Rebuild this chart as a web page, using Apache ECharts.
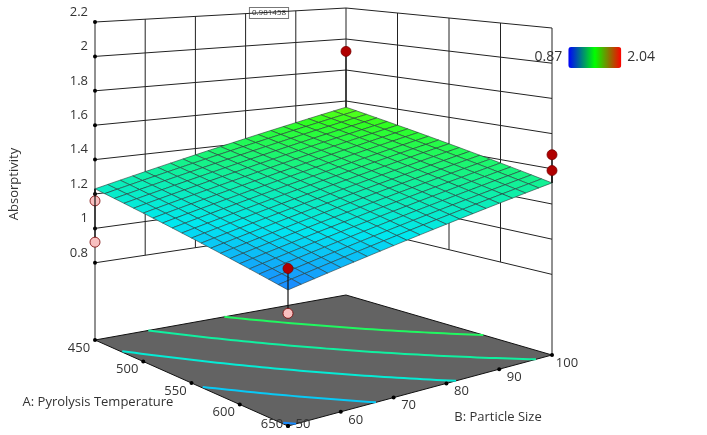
<!DOCTYPE html>
<html>
<head>
<meta charset="utf-8">
<script src="https://cdn.jsdelivr.net/npm/echarts@6/dist/echarts.min.js"></script>
<style>html,body{margin:0;padding:0;background:#fff}#main{width:707px;height:435px}</style>
</head>
<body>
<div id="main"></div>
<script>
// axis ticks
const aTicks = [450, 500, 550, 600, 650];
const bTicks = [50, 60, 70, 80, 90, 100];
const zTicks = [0.8, 1, 1.2, 1.4, 1.6, 1.8, 2, 2.2];
// fitted surface at the four corners: [A450/B50, A650/B50, A450/B100, A650/B100]
const surfCorners = [1.23, 0.99, 1.56, 1.32];
const contourLevels = [1.0, 1.1, 1.2, 1.3, 1.4];
// design points
const ptA = [450, 450, 650, 650, 650, 450, 650];
const ptB = [100, 50, 50, 50, 100, 50, 100];
const ptZ = [1.92, 1.16, 1.10, 0.87, 1.48, 0.92, 1.39];
const colorMin = 0.87, colorMax = 2.04;

// view: per-corner screen params (L=A450/B50, F=A650/B50, K=A450/B100, R=A650/B100)
const cx = [95, 288, 346, 552];
const cFloor = [340, 426, 295, 355];
const cTop = [22, 54, 8, 28];
const cK = [172, 195, 155, 176];

function bil(c, u, v) {
  return c[0] * (1 - u) * (1 - v) + c[1] * u * (1 - v) + c[2] * (1 - u) * v + c[3] * u * v;
}
function uv(a, b) { return [(a - 450) / 200, (b - 50) / 50]; }
function proj(a, b, z) {
  const [u, v] = uv(a, b);
  return [bil(cx, u, v), bil(cTop, u, v) + (2.2 - z) * bil(cK, u, v)];
}
function floorPt(a, b) {
  const [u, v] = uv(a, b);
  return [bil(cx, u, v), bil(cFloor, u, v)];
}
function surfZ(a, b) { const [u, v] = uv(a, b); return bil(surfCorners, u, v); }

const surfStops = [0.87, 1.0, 1.15, 1.3, 1.5, 1.75, 2.04];
const surfPalette = ['#0040ff', '#1a8cff', '#00e8f0', '#10f0a0', '#30ff20', '#ffff00', '#ff0000'];
function surfColor(z) {
  for (let i = 1; i < surfStops.length; i++) {
    if (z <= surfStops[i]) {
      const t = (z - surfStops[i - 1]) / (surfStops[i] - surfStops[i - 1]);
      return echarts.color.lerp(Math.max(0, t), [surfPalette[i - 1], surfPalette[i]]);
    }
  }
  return surfPalette[surfPalette.length - 1];
}

const chart = echarts.init(document.getElementById('main'));
const font = '"Open Sans", "Noto Sans", sans-serif';

function renderAll(params, api) {
  const c = p => api.coord(p);
  const line = (p1, p2, stroke, w) => ({ type: 'line', shape: { x1: c(p1)[0], y1: c(p1)[1], x2: c(p2)[0], y2: c(p2)[1] }, style: { stroke: stroke || '#222', lineWidth: w || 1 } });
  const kids = [];
  // floor
  const fc = [floorPt(450, 50), floorPt(650, 50), floorPt(650, 100), floorPt(450, 100)];
  kids.push({ type: 'polygon', shape: { points: fc.map(c) }, style: { fill: '#636363', stroke: '#111', lineWidth: 1 } });
  // contours on floor
  contourLevels.forEach(lv => {
    const pts = [];
    for (let i = 0; i <= 60; i++) {
      const u = i / 60;
      const z0 = surfCorners[0] + (surfCorners[1] - surfCorners[0]) * u;
      const z1 = surfCorners[2] + (surfCorners[3] - surfCorners[2]) * u;
      const v = (lv - z0) / (z1 - z0);
      if (v >= 0 && v <= 1) pts.push(c(floorPt(450 + u * 200, 50 + v * 50)));
    }
    if (pts.length > 1) kids.push({ type: 'polyline', shape: { points: pts }, style: { stroke: surfColor(lv), lineWidth: 2, fill: null } });
  });
  // walls
  zTicks.forEach(z => {
    kids.push(line(proj(450, 50, z), proj(450, 100, z)));
    kids.push(line(proj(450, 100, z), proj(650, 100, z)));
  });
  bTicks.slice(1, -1).forEach(b => kids.push(line(proj(450, b, 0.8), proj(450, b, 2.2))));
  aTicks.slice(1, -1).forEach(a => kids.push(line(proj(a, 100, 0.8), proj(a, 100, 2.2))));
  kids.push(line(proj(450, 100, 0.8), proj(450, 100, 2.2)));
  kids.push(line(floorPt(450, 50), proj(450, 50, 2.2)));
  kids.push(line(floorPt(650, 100), proj(650, 100, 2.2)));
  // z ticks + labels
  zTicks.forEach(z => {
    const p = c(proj(450, 50, z));
    kids.push({ type: 'circle', shape: { cx: p[0], cy: p[1], r: 2 }, style: { fill: '#000' } });
    kids.push({ type: 'text', x: p[0] - 7, y: p[1] - 10, style: { text: String(z), align: 'right', verticalAlign: 'middle', font: '13px ' + font, fill: '#333' } });
  });
  aTicks.forEach(a => {
    const p = c(floorPt(a, 50));
    kids.push({ type: 'circle', shape: { cx: p[0], cy: p[1], r: 2 }, style: { fill: '#000' } });
    kids.push({ type: 'text', x: p[0] - 16, y: Math.min(p[1] + 8, 424), style: { text: String(a), align: 'center', verticalAlign: 'middle', font: '13px ' + font, fill: '#333' } });
  });
  bTicks.forEach(b => {
    const p = c(floorPt(650, b));
    kids.push({ type: 'circle', shape: { cx: p[0], cy: p[1], r: 2 }, style: { fill: '#000' } });
    kids.push({ type: 'text', x: p[0] + 15, y: Math.min(p[1] + 8, 424), style: { text: String(b), align: 'center', verticalAlign: 'middle', font: '13px ' + font, fill: '#333' } });
  });
  // points below surface + their stems
  const N = 20;
  const below = [], above = [];
  ptA.forEach((a, i) => {
    const zs = surfZ(a, ptB[i]);
    const item = [line(proj(a, ptB[i], ptZ[i]), proj(a, ptB[i], zs), '#111', 1.2)];
    const p = c(proj(a, ptB[i], ptZ[i]));
    item.push({ type: 'circle', shape: { cx: p[0], cy: p[1], r: 5 }, style: { fill: ptZ[i] < zs ? '#f8c0c0' : '#b00000', stroke: '#700', lineWidth: 0.8 } });
    (ptZ[i] < zs ? below : above).push(...item);
  });
  kids.push(...below);
  // surface cells, far to near
  const cells = [];
  for (let i = 0; i < N; i++) for (let j = 0; j < N; j++) cells.push([i, j]);
  cells.sort((p, q) => (p[0] - p[1]) - (q[0] - q[1]));
  cells.forEach(([i, j]) => {
    const a0 = 450 + i * 200 / N, a1 = 450 + (i + 1) * 200 / N;
    const b0 = 50 + j * 50 / N, b1 = 50 + (j + 1) * 50 / N;
    const pts = [[a0, b0], [a1, b0], [a1, b1], [a0, b1]].map(([a, b]) => c(proj(a, b, surfZ(a, b))));
    const zc = surfZ((a0 + a1) / 2, (b0 + b1) / 2);
    kids.push({ type: 'polygon', shape: { points: pts }, style: { fill: surfColor(zc), stroke: '#2a3a3a', lineWidth: 0.6 } });
  });
  kids.push(...above);
  return { type: 'group', children: kids };
}

chart.setOption({
  animation: false,
  grid: { left: 0, right: 0, top: 0, bottom: 0 },
  xAxis: { type: 'value', min: 0, max: 707, show: false },
  yAxis: { type: 'value', min: 0, max: 435, inverse: true, show: false },
  visualMap: {
    type: 'continuous', orient: 'horizontal', min: colorMin, max: colorMax,
    seriesIndex: 1, calculable: false, right: 37, top: 32,
    itemWidth: 21, itemHeight: 53, text: ['2.04', '0.87'], textGap: 6,
    textStyle: { fontSize: 14, color: '#333', fontFamily: font },
    inRange: { color: ['#0000ff', '#00ff00', '#ff0000'] }
  },
  graphic: [
    { type: 'text', rotation: Math.PI / 2, style: { text: 'Absorptivity', font: '13px ' + font, fill: '#333', align: 'center', verticalAlign: 'middle' }, x: 14, y: 184 },
    { type: 'text', x: 98, y: 402, style: { text: 'A: Pyrolysis Temperature', font: '13px ' + font, fill: '#333', align: 'center', verticalAlign: 'middle' } },
    { type: 'text', x: 498, y: 417, style: { text: 'B: Particle Size', font: '13px ' + font, fill: '#333', align: 'center', verticalAlign: 'middle' } },
    { type: 'text', x: 269, y: 13, style: { text: '0.981458', font: '8px ' + font, fill: '#333', align: 'center', verticalAlign: 'middle', backgroundColor: '#fff', borderColor: '#777', borderWidth: 1, padding: [1, 2] } }
  ],
  series: [
    { type: 'custom', renderItem: renderAll, data: [[0, 0]], silent: true, clip: false },
    { type: 'scatter', data: [], symbolSize: 0 }
  ]
});
</script>
</body>
</html>
